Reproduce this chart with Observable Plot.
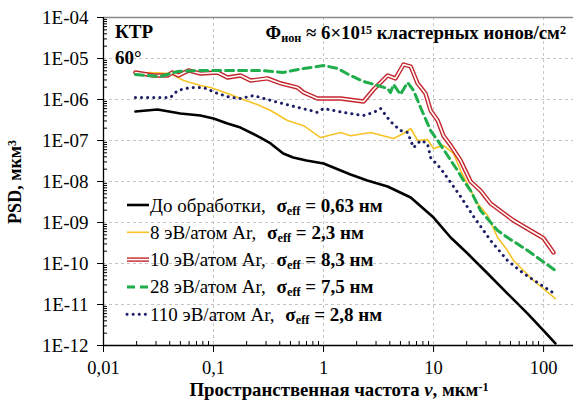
<!DOCTYPE html>
<html><head><meta charset="utf-8">
<script src="https://cdn.jsdelivr.net/npm/d3@7"></script>
<script src="https://cdn.jsdelivr.net/npm/@observablehq/plot@0.6"></script>
<style>body{margin:0;background:#fff} svg{display:block}</style>
</head><body><div id="chart"></div>
<script>
// ---- data (spatial frequency, 1/µm ; PSD, µm^3) ----
const seriesNames = ["До обработки", "8 эВ/атом Ar", "10 эВ/атом Ar", "28 эВ/атом Ar", "110 эВ/атом Ar"];
const sigmaLabels = ["0,63", "2,3", "8,3", "7,5", "2,8"];

const xRef = [0.0195,0.031,0.05,0.076,0.1,0.134,0.176,0.267,0.33,0.43,0.53,0.7,1.0,1.76,2.5,3.82,6.2,10,14.3,20.4,31,47,71.6,100,128];
const yRef = [5.1e-7,5.7e-7,4.56e-7,4.07e-7,3.44e-7,2.6e-7,2.07e-7,1.18e-7,8.5e-8,4.8e-8,3.85e-8,3.25e-8,2.75e-8,1.48e-8,1.06e-8,7.55e-9,4.07e-9,1.32e-9,4.3e-10,1.75e-10,5.7e-11,1.85e-11,6.0e-12,2.3e-12,1.12e-12];

const x8 = [0.0195,0.0267,0.0406,0.0534,0.076,0.094,0.134,0.176,0.25,0.33,0.47,0.66,0.94,1.43,1.76,2.67,4.33,5.33,6.2,7.16,8.8,10,12.3,15.2,17.6,25.1,31,38.2,47,53.3,81,128];
const y8 = [4.3e-6,4.56e-6,4.3e-6,2.9e-6,2.2e-6,1.96e-6,1.4e-6,1.06e-6,7.55e-7,5.4e-7,3.07e-7,2.3e-7,1.18e-7,1.57e-7,1.3e-7,1.57e-7,1.12e-7,1.48e-7,1.96e-7,1.0e-7,1.05e-7,6.4e-8,7.6e-8,4.8e-8,1.85e-8,2.9e-9,1.48e-9,4.3e-10,2.07e-10,1.18e-10,3.85e-11,1.4e-11];

const x10 = [0.0195,0.0285,0.0382,0.0424,0.048,0.0593,0.076,0.109,0.134,0.176,0.217,0.31,0.41,0.58,0.66,0.88,1.43,2.31,2.85,3.82,4.51,5.33,6.2,7.16,8.46,9.4,10.9,12.3,14.3,17.6,21.7,26.7,33,53.3,94,100,123];
const y10 = [4.56e-6,3.85e-6,3.85e-6,4.56e-6,3.85e-6,5.1e-6,4.3e-6,4.56e-6,3.44e-6,3.85e-6,2.9e-6,3.27e-6,2.46e-6,1.96e-6,1.48e-6,1.06e-6,1.06e-6,8.94e-7,1.75e-6,3.85e-6,3.27e-6,7.14e-6,6.38e-6,2.46e-6,1.4e-6,5.4e-7,3.07e-7,1.3e-7,7.6e-8,3.25e-8,1.0e-8,6.0e-9,2.9e-9,1.12e-9,4.56e-10,4.1e-10,1.85e-10];

const x28 = [0.0195,0.033,0.0471,0.076,0.152,0.267,0.43,0.66,1.0,1.34,1.76,2.31,3.1,3.82,4.06,4.33,5.0,5.8,6.58,7.62,9.4,10.9,13.4,16.5,18.7,21.7,26.7,38.2,47,71.6,128];
const y28 = [4.07e-6,3.64e-6,4.82e-6,5.1e-6,5.1e-6,5.1e-6,4.56e-6,5.7e-6,6.75e-6,5.7e-6,3.85e-6,2.75e-6,2.2e-6,1.85e-6,1.48e-6,2.32e-6,1.32e-6,2.6e-6,1.66e-6,6.38e-7,1.75e-7,1.0e-7,4.3e-8,1.85e-8,1.06e-8,6.0e-9,1.96e-9,6.38e-10,4.3e-10,2.07e-10,6.75e-11];

const x110 = [0.0195,0.0267,0.0406,0.0471,0.0618,0.0811,0.109,0.143,0.176,0.231,0.33,0.5,0.762,0.88,1.0,1.52,2.31,2.85,3.3,4.06,5.0,5.8,6.58,7.62,8.8,9.4,11.6,14.3,17.6,23.1,33,47,65.8,121];
const y110 = [1.12e-6,1.12e-6,1.12e-6,1.66e-6,1.96e-6,1.96e-6,1.4e-6,1.12e-6,1.06e-6,1.25e-6,9.5e-7,7.1e-7,5.4e-7,4.82e-7,6.03e-7,4.82e-7,4.07e-7,4.82e-7,6.03e-7,2.9e-7,1.75e-7,1.57e-7,6.7e-8,1.0e-7,8.5e-8,3.85e-8,2.07e-8,9.5e-9,4.3e-9,1.4e-9,3.64e-10,1.18e-10,5.7e-11,1.96e-11];

// ticks
const xMajor = [0.01, 0.1, 1, 10, 100];
const xTickLabels = ["0,01", "0,1", "1", "10", "100"];
const yMajor = [1e-12,1e-11,1e-10,1e-9,1e-8,1e-7,1e-6,1e-5,1e-4];
const yTickLabels = ["1E-12","1E-11","1E-10","1E-09","1E-08","1E-07","1E-06","1E-05","1E-04"];

// ---- build tables ----
const toRows = (xs, ys) => xs.map((x, i) => ({x, y: ys[i]}));
const dRef = toRows(xRef, yRef), d8 = toRows(x8, y8), d10 = toRows(x10, y10), d28 = toRows(x28, y28), d110 = toRows(x110, y110);
const xMinor = [], yMinor = [];
for (const m of xMajor) for (let k = 2; k <= 9; k++) if (m*k < 187) xMinor.push(m*k);
for (const m of yMajor.slice(0, -1)) for (let k = 2; k <= 9; k++) yMinor.push(m*k);

const colors = {ref: "#000000", e8: "#f7c325", e10: "#c4262e", e28: "#1fae4b", e110: "#1c1f66"};
const serif = "Liberation Serif, Times New Roman, DejaVu Serif, serif";

const chart = Plot.plot({
  width: 573, height: 400,
  marginLeft: 103, marginRight: 0, marginTop: 17, marginBottom: 55,
  style: {fontFamily: serif, background: "#fff", color: "#000", overflow: "visible"},
  x: {type: "log", domain: [0.01, 187], axis: null},
  y: {type: "log", domain: [1e-12, 1e-4], axis: null},
  marks: [
    Plot.ruleX(xMajor.slice(1), {stroke: "#c4c4c4", strokeDasharray: "3,3", strokeWidth: 1}),
    Plot.ruleY(yMajor.slice(1, -1), {stroke: "#c4c4c4", strokeDasharray: "3,3", strokeWidth: 1}),
    Plot.ruleY([1e-4], {stroke: "#8a8a8a", strokeWidth: 1.3}),
    Plot.line(dRef, {x: "x", y: "y", stroke: colors.ref, strokeWidth: 2.6}),
    Plot.line(d8, {x: "x", y: "y", stroke: colors.e8, strokeWidth: 1.6}),
    Plot.line(d10, {x: "x", y: "y", stroke: colors.e10, strokeWidth: 4.4}),
    Plot.line(d10, {x: "x", y: "y", stroke: "#ffffff", strokeWidth: 1.6}),
    Plot.line(d28, {x: "x", y: "y", stroke: colors.e28, strokeWidth: 3, strokeDasharray: "8,5"}),
    Plot.line(d110, {x: "x", y: "y", stroke: colors.e110, strokeWidth: 3, strokeDasharray: "0.1,6", strokeLinecap: "round"}),
    Plot.ruleX([0.01], {stroke: "#000", strokeWidth: 1.3}),
    Plot.ruleY([1e-12], {stroke: "#000", strokeWidth: 1.3}),
    Plot.axisY(yMajor, {anchor: "left", tickSize: 6, tickPadding: 9, fontSize: 19, label: null, fontFamily: serif,
      tickFormat: d => yTickLabels[yMajor.indexOf(d)]}),
    Plot.axisY(yMinor, {anchor: "left", tickSize: -4, tickFormat: () => "", label: null}),
    Plot.axisX(xMajor, {anchor: "bottom", tickSize: 7, tickPadding: 8, fontSize: 18.5, label: null, fontFamily: serif,
      tickFormat: d => xTickLabels[xMajor.indexOf(d)]}),
    Plot.axisX(xMinor, {anchor: "bottom", tickSize: -4, tickFormat: () => "", label: null})
  ]
});
document.getElementById("chart").append(chart);

// ---- text with sub/superscripts and legend ----
const svg = d3.select(chart);
function rich(g, x, y, parts, opts = {}) {
  const t = g.append("text").attr("x", x).attr("y", y)
    .style("font-family", serif).attr("font-size", opts.size || 17)
    .attr("text-anchor", opts.anchor || "start").attr("fill", "#000");
  if (opts.transform) t.attr("transform", opts.transform);
  if (opts.bold) t.attr("font-weight", "bold");
  for (const p of parts) {
    const s = t.append("tspan").text(p.t);
    if (p.bold) s.attr("font-weight", "bold");
    if (p.italic) s.attr("font-style", "italic");
    if (p.dx) s.attr("dx", p.dx);
    if (p.sub) s.attr("baseline-shift", "-25%").attr("font-size", "65%");
    if (p.sup) s.attr("baseline-shift", "40%").attr("font-size", "65%");
  }
  return t;
}
const g = svg.append("g");
rich(g, 115, 38, [{t: "КТР"}], {bold: true, size: 19});
rich(g, 115, 64, [{t: "60°"}], {bold: true, size: 19});
rich(g, 566, 39, [{t: "Φ"}, {t: "ион", sub: true}, {t: " ≈ 6×10"}, {t: "15", sup: true}, {t: " кластерных ионов/см"}, {t: "2", sup: true}], {bold: true, size: 18.8, anchor: "end"});
rich(g, 339, 396, [{t: "Пространственная частота "}, {t: "ν", italic: true}, {t: ", мкм"}, {t: "-1", sup: true}], {bold: true, size: 18.8, anchor: "middle"});
rich(g, 0, 0, [{t: "PSD, мкм"}, {t: "3", sup: true}], {bold: true, size: 18, anchor: "middle", transform: "translate(21,182) rotate(-90)"});

const legendStyles = [
  {stroke: colors.ref, w: 2.6},
  {stroke: colors.e8, w: 1.6},
  {stroke: colors.e10, w: 4.4, inner: true},
  {stroke: colors.e28, w: 3, dash: "8,5"},
  {stroke: colors.e110, w: 3, dash: "0.1,6", cap: "round"}
];
seriesNames.forEach((name, i) => {
  const y = 205 + i * 27.3;
  const st = legendStyles[i];
  const l = g.append("line").attr("x1", 127).attr("x2", 149).attr("y1", y).attr("y2", y)
    .attr("stroke", st.stroke).attr("stroke-width", st.w);
  if (st.dash) l.attr("stroke-dasharray", st.dash);
  if (st.cap) l.attr("stroke-linecap", st.cap);
  if (st.inner) g.append("line").attr("x1", 127).attr("x2", 149).attr("y1", y).attr("y2", y).attr("stroke", "#fff").attr("stroke-width", 1.6);
  rich(g, 150, y + 6.5, [{t: name + ", "}, {t: "σ", bold: true, dx: 6}, {t: "eff", bold: true, sub: true}, {t: " = " + sigmaLabels[i] + " нм", bold: true}], {size: 19});
});
</script>
</body></html>
